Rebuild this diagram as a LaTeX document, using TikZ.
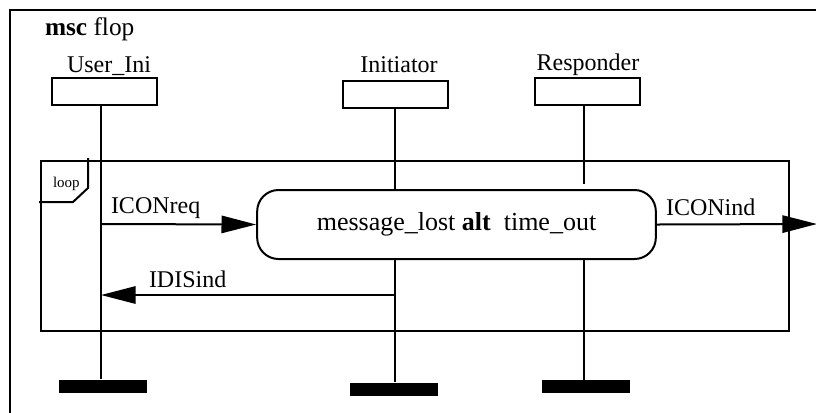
\documentclass[tikz,border=0pt]{standalone}
\usepackage{fontspec}
\setmainfont{Liberation Serif}
\usetikzlibrary{calc}
\usetikzlibrary{arrows.meta}
\tikzset{>={Triangle[length=26pt,width=13pt]}}
\tikzset{
  headbox/.style={draw, line width=1.5pt, inner sep=0pt, minimum width=78.75pt, minimum height=20.25pt},
  endbar/.style={fill=black, inner sep=0pt, minimum width=66pt, minimum height=9.75pt},
  altbox/.style={draw, line width=1.5pt, rounded corners=16pt, inner sep=0pt, minimum width=299pt, minimum height=51.75pt, font=\fontsize{19.5}{22}\selectfont},
  lbl/.style={font=\fontsize{18}{20}\selectfont, inner sep=0pt, anchor=base},
  msg/.style={line width=1.5pt, ->}
}

\begin{document}
\begin{tikzpicture}[x=0.75pt, y=-0.75pt, line width=1.5pt]
  \useasboundingbox (0,0) rectangle (816,412);

  % frame
  \draw (816,10) -- (10,10) -- (10,420);
  \node[font=\fontsize{19}{21}\selectfont, inner sep=0pt, anchor=base west] (title) at (44,35) {\textbf{msc} flop};

  % instance heads
  \node[headbox] (ui) at (104.5,91.5) {};
  \node[headbox] (ini) at (395,94.5) {};
  \node[headbox] (resp) at (587.5,91.5) {};
  \node[lbl] (uiname) at (109,72) {User\_Ini};
  \node[lbl] (ininame) at (399,72) {Initiator};
  \node[lbl] (respname) at (588,70) {Responder};

  % instance ends
  \node[endbar] (uiend) at (103,386.5) {};
  \node[endbar] (iniend) at (394,389.5) {};
  \node[endbar] (respend) at (586,386.5) {};

  % loop frame
  \draw (41,161) rectangle (789,331);
  \draw (88,158) -- (88,188) -- (73,202) -- (39,202);
  \node[font=\fontsize{11.25}{13}\selectfont, inner sep=0pt, anchor=base west] (looplbl) at (52,187) {loop};

  % inline reference
  \node[altbox] (alt) at (456.5,224.5) {message\_lost \textbf{alt}\ \ time\_out};

  % lifelines
  \draw (ui.south -| 101,0) -- (uiend.north -| 101,0);
  \draw (ini.south) -- (ini.south |- alt.north);
  \draw (ini.south |- alt.south) -- (iniend.north -| ini.south);
  \draw (584,105) -- (584,184);
  \draw (584,259) -- (584,380);

  % messages
  \coordinate (uiin) at (101,224);
  \coordinate (uiout) at (101,295);
  \coordinate (iniout) at (395,295);
  \coordinate (env) at (817,224);
  \draw[msg] (uiin) -- (alt.west);
  \draw[msg] (iniout) -- (uiout);
  \draw[msg] (alt.east) -- (env);
  \node[lbl, anchor=base west] (req) at (110,213) {ICONreq};
  \node[lbl, anchor=base west] (dis) at (148,287) {IDISind};
  \node[lbl, anchor=base west] (ind) at (665,215) {ICONind};
\end{tikzpicture}
\end{document}
